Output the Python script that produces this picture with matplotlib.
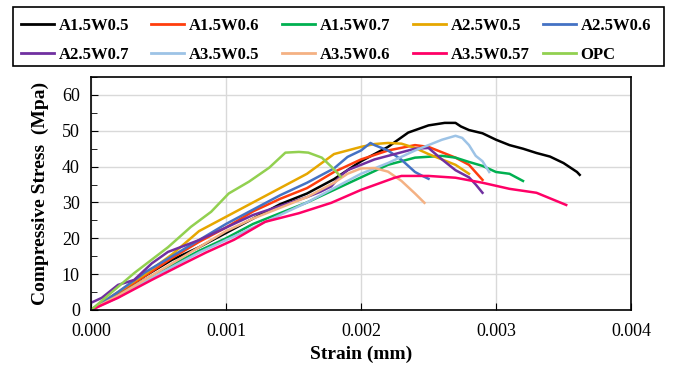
import matplotlib
matplotlib.use('Agg')
import matplotlib.pyplot as plt
from matplotlib.ticker import MultipleLocator, FormatStrFormatter
from matplotlib.patches import Rectangle

plt.rcParams['font.family'] = ['Liberation Serif', 'DejaVu Serif']

# strain (mm) / stress (MPa)
a15w05_x = [0, 0.0002, 0.0004, 0.0006, 0.0008, 0.001, 0.0012, 0.0014, 0.0016, 0.0018, 0.002, 0.0022,
            0.00235, 0.0025, 0.00262, 0.0027, 0.00274, 0.0028, 0.0029, 0.003, 0.0031, 0.0032, 0.0033,
            0.0034, 0.0035, 0.0036, 0.00362]
a15w05_y = [0, 4.5, 9.5, 14, 17.5, 21.5, 25.5, 29.5, 32.5, 36.5, 41.5, 45.5,
            49.5, 51.5, 52.2, 52.2, 51.2, 50.2, 49.3, 47.5, 46, 45, 43.8,
            42.8, 41, 38.5, 37.7]

a15w06_x = [0, 0.0002, 0.0004, 0.0006, 0.0008, 0.001, 0.0012, 0.0014, 0.0016, 0.0018, 0.002, 0.0022,
            0.0024, 0.0025, 0.0026, 0.0027, 0.0028, 0.0029]
a15w06_y = [0, 4.5, 9.5, 14.5, 19, 23, 27.5, 31, 34, 38.5, 42, 44.5,
            46, 45.5, 44, 42.5, 40.5, 36.3]

a15w07_x = [0, 0.0002, 0.0004, 0.0006, 0.0008, 0.001, 0.0012, 0.0014, 0.0016, 0.0018, 0.002, 0.0022,
            0.0024, 0.0026, 0.0027, 0.0028, 0.0029, 0.003, 0.0031, 0.0032]
a15w07_y = [0, 4, 8.5, 12.5, 16.5, 20, 24, 27, 30, 33.5, 37, 40.5,
            42.5, 43, 42.5, 41.3, 40.2, 38.5, 38, 36]

a25w05_x = [0, 0.0002, 0.0004, 0.0006, 0.0008, 0.001, 0.0012, 0.0014, 0.0016, 0.0018, 0.002, 0.0021,
            0.0022, 0.0023, 0.0024, 0.0025, 0.0026, 0.0027, 0.0028]
a25w05_y = [0, 5, 10, 15.5, 22, 26, 30, 34, 38, 43.5, 45.5, 46.3,
            46.6, 46.4, 45.2, 43.5, 42, 40.5, 38]

a25w06_x = [0, 0.0002, 0.0004, 0.0006, 0.0008, 0.001, 0.0012, 0.0014, 0.0016, 0.0018, 0.0019, 0.002,
            0.00207, 0.0021, 0.0022, 0.0023, 0.0024, 0.00245, 0.0025]
a25w06_y = [0, 5, 10.5, 15, 19.5, 24, 28, 32, 35.5, 39.5, 42.7, 44.5,
            46.6, 46, 44.5, 41.9, 38.5, 37.5, 36.6]

a25w07_x = [0, 0.00008, 0.0002, 0.00027, 0.00032, 0.00045, 0.00057, 0.0008, 0.001, 0.0012, 0.0014,
            0.0016, 0.0017, 0.00178, 0.00185, 0.0019, 0.002, 0.0021, 0.0022, 0.0023, 0.0024, 0.0025,
            0.0026, 0.0027, 0.0028, 0.00285, 0.0029]
a25w07_y = [2, 3.4, 7, 7.8, 8.4, 13, 16.2, 19.5, 23, 26.5, 29,
            31.5, 33, 34.5, 37.5, 39, 40.5, 42, 43, 44, 45, 45.2,
            42, 39, 37, 35, 32.7]

a35w05_x = [0, 0.0002, 0.0004, 0.0006, 0.0008, 0.001, 0.0012, 0.0014, 0.0016, 0.0018, 0.002, 0.0022,
            0.0024, 0.0026, 0.0027, 0.00275, 0.0028, 0.00285, 0.0029, 0.00295]
a35w05_y = [0, 3.5, 8, 12, 16, 19.5, 23, 26.5, 30, 34, 38, 41,
            44.5, 47.5, 48.6, 48, 46, 43, 41.5, 38.5]

a35w06_x = [0, 0.0002, 0.0004, 0.0006, 0.0008, 0.001, 0.0012, 0.0014, 0.0016, 0.0018, 0.0019, 0.002,
            0.0021, 0.0022, 0.0023, 0.0024, 0.00247]
a35w06_y = [0, 4, 8.5, 13, 17.5, 22, 25.5, 28.5, 31.5, 35.5, 38, 39.5,
            39.6, 38.6, 36, 32.5, 29.9]

a35w057_x = [0, 0.0002, 0.00045, 0.00069, 0.00085, 0.00106, 0.00129, 0.00154, 0.00178, 0.002, 0.00225,
             0.0023, 0.0025, 0.0027, 0.0029, 0.0031, 0.0033, 0.00352]
a35w057_y = [0, 3.4, 8.4, 13, 16, 19.6, 24.6, 27, 29.9, 33.5, 36.9,
             37.4, 37.4, 36.9, 35.5, 33.8, 32.7, 29.3]

opc_x = [0, 0.00032, 0.00057, 0.00074, 0.00089, 0.00102, 0.00117, 0.00132, 0.00144, 0.00154, 0.00161,
         0.00171, 0.00178, 0.00185]
opc_y = [0, 10.3, 17.5, 23.2, 27.4, 32.5, 35.8, 39.7, 43.9, 44.1, 43.9,
         42.5, 40, 37.2]

series = [
    ("A1.5W0.5", a15w05_x, a15w05_y, "#000000"),
    ("A1.5W0.6", a15w06_x, a15w06_y, "#FF3D0D"),
    ("A1.5W0.7", a15w07_x, a15w07_y, "#00B050"),
    ("A2.5W0.5", a25w05_x, a25w05_y, "#E6A700"),
    ("A2.5W0.6", a25w06_x, a25w06_y, "#4472C4"),
    ("A2.5W0.7", a25w07_x, a25w07_y, "#7030A0"),
    ("A3.5W0.5", a35w05_x, a35w05_y, "#9DC3E6"),
    ("A3.5W0.6", a35w06_x, a35w06_y, "#F4B183"),
    ("A3.5W0.57", a35w057_x, a35w057_y, "#FF0066"),
    ("OPC", opc_x, opc_y, "#92D050"),
]

W, H = 673, 367
fig = plt.figure(figsize=(W / 100, H / 100), dpi=100)
ax = fig.add_axes([91 / W, 1 - 310 / H, 540 / W, 233 / H])

lines = []
for name, x, y, c in series:
    ln, = ax.plot(x, y, color=c, lw=1.8, label=name)
    lines.append(ln)

ax.set_xlim(0, 0.004)
ax.set_ylim(0, 65)
ax.xaxis.set_major_locator(MultipleLocator(0.001))
ax.xaxis.set_major_formatter(FormatStrFormatter('%.3f'))
ax.yaxis.set_major_locator(MultipleLocator(10))
ax.yaxis.set_minor_locator(MultipleLocator(5))
ax.tick_params(axis='both', which='both', direction='in', labelsize=13, pad=8, length=5)
ax.tick_params(axis='x', pad=9)
ax.tick_params(axis='y', which='minor', length=4)
ax.grid(True, which='major', color='#D9D9D9', lw=1)
ax.set_axisbelow(True)
for s in ax.spines.values():
    s.set_linewidth(1.2)

ax.set_xlabel("Strain (mm)", fontsize=14, fontweight='bold')
ax.set_ylabel("Compressive Stress  (Mpa)", fontsize=14, fontweight='bold')
ax.xaxis.set_label_coords(0.5, -0.155)
ax.yaxis.set_label_coords(-0.077, 0.5)

# legend: box with five columns, filled row by row
fig.add_artist(Rectangle((13 / W, 1 - 66 / H), 651 / W, 59 / H, transform=fig.transFigure,
                         fill=False, edgecolor='black', lw=1.2))
col_left = [21, 151, 282, 413, 543]
for j in range(5):
    lg = fig.legend([lines[j], lines[j + 5]], [series[j][0], series[j + 5][0]],
                    loc='upper left', bbox_to_anchor=(col_left[j] / W, 1 - 18 / H),
                    frameon=False, prop={'weight': 'bold', 'size': 12},
                    handlelength=1.95, handletextpad=0.3, labelspacing=0.78, borderpad=0,
                    borderaxespad=0)
    for h in lg.get_lines():
        h.set_linewidth(2)

fig.savefig("out.png", dpi=100)
